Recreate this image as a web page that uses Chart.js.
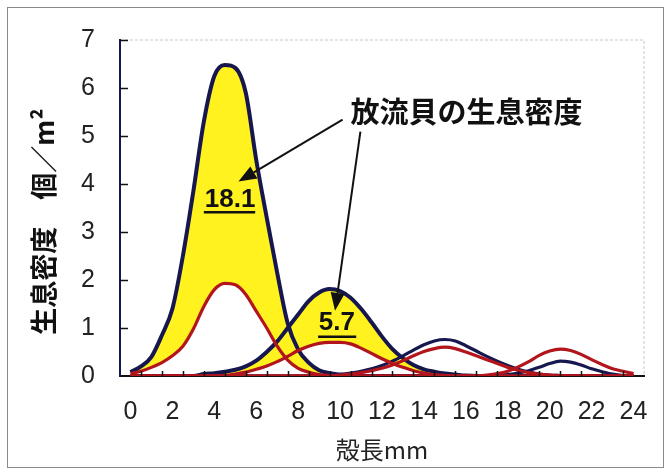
<!DOCTYPE html>
<html>
<head>
<meta charset="utf-8">
<script src="https://cdn.jsdelivr.net/npm/chart.js@4.4.1/dist/chart.umd.min.js"></script>
<style>
html, body { margin: 0; padding: 0; background: #fff; }
#wrap { width: 669px; height: 472px; }
</style>
</head>
<body>
<div id="wrap"><canvas id="chart_shellDensity"></canvas></div>
<script>
// shell length (mm), every 0.5 mm
var shellLength = [0, 0.5, 1, 1.5, 2, 2.5, 3, 3.5, 4, 4.5, 5, 5.5, 6, 6.5, 7, 7.5, 8, 8.5, 9, 9.5,
  10, 10.5, 11, 11.5, 12, 12.5, 13, 13.5, 14, 14.5, 15, 15.5, 16, 16.5, 17, 17.5, 18, 18.5, 19, 19.5,
  20, 20.5, 21, 21.5, 22, 22.5, 23, 23.5, 24];

// density, individuals / m2 (navy = all shellfish, red = wild)
var navy1 = [0.08, 0.2, 0.4, 0.85, 1.4, 2.5, 3.85, 5.3, 6.25, 6.48, 6.42, 5.9, 4.5, 3.3, 2.15, 1.1, 0.55, 0.28, 0.12, 0.06,
  0.03, 0.01, 0, 0, 0, 0, 0, 0, 0, 0, 0, 0, 0, 0, 0, 0, 0, 0, 0, 0, 0, 0, 0, 0, 0, 0, 0, 0, 0];
var red1 = [0.05, 0.1, 0.18, 0.28, 0.42, 0.62, 0.98, 1.45, 1.8, 1.93, 1.9, 1.7, 1.35, 1.0, 0.62, 0.33, 0.16, 0.08, 0.03, 0.01,
  0, 0, 0, 0, 0, 0, 0, 0, 0, 0, 0, 0, 0, 0, 0, 0, 0, 0, 0, 0, 0, 0, 0, 0, 0, 0, 0, 0, 0];
var navy2 = [0, 0, 0, 0, 0, 0, 0, 0.04, 0.06, 0.09, 0.13, 0.2, 0.32, 0.5, 0.72, 1.0, 1.28, 1.56, 1.74, 1.81,
  1.77, 1.63, 1.4, 1.12, 0.82, 0.56, 0.37, 0.23, 0.14, 0.09, 0.05, 0.03, 0.01, 0, 0, 0, 0, 0, 0, 0, 0, 0, 0, 0, 0, 0, 0, 0, 0];
var red2 = [0, 0, 0, 0, 0, 0, 0, 0, 0, 0.01, 0.04, 0.08, 0.14, 0.21, 0.3, 0.41, 0.53, 0.62, 0.68, 0.7,
  0.7, 0.67, 0.58, 0.47, 0.36, 0.26, 0.18, 0.11, 0.06, 0.03, 0.01, 0, 0, 0, 0, 0, 0, 0, 0, 0, 0, 0, 0, 0, 0, 0, 0, 0, 0];
var navy3 = [0, 0, 0, 0, 0, 0, 0, 0, 0, 0, 0, 0, 0, 0, 0, 0, 0, 0, 0, 0.01,
  0.03, 0.06, 0.1, 0.15, 0.22, 0.31, 0.42, 0.54, 0.65, 0.73, 0.76, 0.73, 0.63, 0.52, 0.41, 0.31, 0.22, 0.14, 0.08, 0.04,
  0.02, 0.01, 0, 0, 0, 0, 0, 0, 0];
var red3 = [0, 0, 0, 0, 0, 0, 0, 0, 0, 0, 0, 0, 0, 0, 0, 0, 0, 0, 0, 0,
  0.02, 0.04, 0.07, 0.11, 0.16, 0.23, 0.32, 0.42, 0.51, 0.57, 0.6, 0.57, 0.5, 0.42, 0.34, 0.26, 0.18, 0.12, 0.07, 0.04,
  0.02, 0.01, 0, 0, 0, 0, 0, 0, 0];
var navy4 = [0, 0, 0, 0, 0, 0, 0, 0, 0, 0, 0, 0, 0, 0, 0, 0, 0, 0, 0, 0,
  0, 0, 0, 0, 0, 0, 0, 0, 0, 0, 0, 0, 0, 0, 0, 0.01, 0.03, 0.06, 0.11, 0.18,
  0.26, 0.31, 0.29, 0.23, 0.15, 0.09, 0.04, 0.01, 0];
var red4 = [0, 0, 0, 0, 0, 0, 0, 0, 0, 0, 0, 0, 0, 0, 0, 0, 0, 0, 0, 0,
  0, 0, 0, 0, 0, 0, 0, 0, 0, 0, 0, 0, 0, 0, 0.02, 0.05, 0.1, 0.19, 0.3, 0.43,
  0.52, 0.56, 0.53, 0.45, 0.34, 0.24, 0.15, 0.1, 0.05];

var xTickLabels = [0, 2, 4, 6, 8, 10, 12, 14, 16, 18, 20, 22, 24];
var xTickMarks = [0.5, 1.5, 2.5, 3.5, 4.5, 5.5, 6.5, 7.5, 8.5, 9.5, 10.5, 11.5, 12.5, 13.5, 14.5, 15.5,
  16.5, 17.5, 18.5, 19.5, 20.5, 21.5, 22.5, 23.5];
var yTickLabels = [0, 1, 2, 3, 4, 5, 6, 7];

var NAVY = '#17174f';
var RED = '#b3151c';
var YELLOW = '#fff21e';
var CJK = '"Noto Sans CJK JP", "Noto Sans", sans-serif';
var NUM = '"Liberation Sans Narrow", "Liberation Sans", Arial, sans-serif';

function pts(ys) {
  return shellLength.map(function(x, i) { return {x: x, y: ys[i]}; });
}

function line(label, ys, color, width, fill) {
  return {
    label: label,
    data: pts(ys),
    borderColor: color,
    borderWidth: width,
    backgroundColor: YELLOW,
    fill: fill,
    pointRadius: 0,
    cubicInterpolationMode: 'monotone'
  };
}

var notes = {
  title: {text: '放流貝の生息密度', x: 10.5, y: 5.5},
  arrows: [
    {from: [10.12, 5.34], to: [5.15, 4.05]},
    {from: [10.97, 5.09], to: [9.76, 1.36]}
  ],
  values: [
    {text: '18.1', x: 4.75, y: 3.68, ux: [3.5, 5.95], uy: 3.41},
    {text: '5.7', x: 9.85, y: 1.11, ux: [8.95, 10.77], uy: 0.82}
  ]
};

var chart_shellDensity = new Chart(document.getElementById('chart_shellDensity'), {
    type: 'line',
    data: {
        datasets: [
            line('red1', red1, RED, 3.2, false),
            line('red2', red2, RED, 3.2, false),
            line('red3', red3, RED, 3.2, false),
            line('red4', red4, RED, 3.2, false),
            line('navy1', navy1, NAVY, 4, 0),
            line('navy2', navy2, NAVY, 4, 1),
            line('navy3', navy3, NAVY, 3.2, false),
            line('navy4', navy4, NAVY, 3.2, false)
        ]
    },
    options: {
        animation: false,
        responsive: true,
        maintainAspectRatio: false,
        layout: {
            padding: {left: 25, right: 25, top: 35, bottom: 5}
        },
        plugins: {
            legend: {display: false},
            tooltip: {enabled: false},
            filler: {drawTime: 'beforeDatasetsDraw'}
        },
        scales: {
            x: {
                type: 'linear',
                min: -0.5,
                max: 24.5,
                afterBuildTicks: function(scale) {
                    scale.ticks = xTickLabels.map(function(v) { return {value: v}; });
                },
                afterFit: function(scale) { scale.height = 91; },
                grid: {display: false, drawTicks: false},
                border: {display: true, color: '#111', width: 2},
                ticks: {
                    autoSkip: false,
                    maxRotation: 0,
                    padding: 21,
                    color: '#222',
                    font: {family: NUM, size: 25}
                },
                title: {
                    display: true,
                    text: '殻長mm',
                    color: '#222',
                    font: {family: CJK, size: 24},
                    padding: {top: 12, bottom: 3}
                }
            },
            y: {
                min: 0,
                max: 7,
                afterBuildTicks: function(scale) {
                    scale.ticks = yTickLabels.map(function(v) { return {value: v}; });
                },
                afterFit: function(scale) { scale.width = 95; },
                grid: {display: false, drawTicks: false},
                border: {display: true, color: NAVY, width: 2},
                ticks: {
                    padding: 25,
                    color: '#222',
                    font: {family: NUM, size: 25}
                },
                title: {
                    display: true,
                    text: '生息密度　個／m²　',
                    color: '#111',
                    font: {family: CJK, size: 27, weight: 'bold'},
                    padding: {top: 3, bottom: 10}
                }
            }
        }
    },
    plugins: [{
        id: 'background',
        beforeDraw: function(chart) {
            var ctx = chart.ctx;
            ctx.save();
            ctx.fillStyle = 'white';
            ctx.fillRect(0, 0, chart.width, chart.height);
            ctx.strokeStyle = '#8a8a8a';
            ctx.lineWidth = 1;
            ctx.strokeRect(7.5, 7.5, chart.width - 13, chart.height - 12);
            var a = chart.chartArea;
            ctx.strokeStyle = '#c8c8c8';
            ctx.setLineDash([3, 2]);
            ctx.beginPath();
            ctx.moveTo(a.left, a.top);
            ctx.lineTo(a.right, a.top);
            ctx.lineTo(a.right, a.bottom);
            ctx.stroke();
            ctx.restore();
        }
    }, {
        id: 'innerTicks',
        afterDatasetsDraw: function(chart) {
            var ctx = chart.ctx, xs = chart.scales.x, ys = chart.scales.y;
            ctx.save();
            ctx.strokeStyle = '#111';
            ctx.lineWidth = 1.5;
            ctx.beginPath();
            xTickMarks.forEach(function(v) {
                var px = Math.round(xs.getPixelForValue(v)) + 0.5;
                ctx.moveTo(px, ys.bottom);
                ctx.lineTo(px, ys.bottom - 5);
            });
            yTickLabels.forEach(function(v) {
                if (v === 0) return;
                var py = Math.round(ys.getPixelForValue(v)) + 0.5;
                ctx.moveTo(xs.left, py);
                ctx.lineTo(xs.left + 8, py);
            });
            ctx.stroke();
            ctx.restore();
        }
    }, {
        id: 'notes',
        afterDraw: function(chart) {
            var ctx = chart.ctx, xs = chart.scales.x, ys = chart.scales.y;
            function X(v) { return xs.getPixelForValue(v); }
            function Y(v) { return ys.getPixelForValue(v); }
            ctx.save();
            ctx.fillStyle = '#111';
            ctx.strokeStyle = '#111';
            ctx.font = 'bold 29px ' + CJK;
            ctx.textAlign = 'left';
            ctx.textBaseline = 'middle';
            ctx.fillText(notes.title.text, X(notes.title.x), Y(notes.title.y));

            notes.arrows.forEach(function(a) {
                var x0 = X(a.from[0]), y0 = Y(a.from[1]);
                var x1 = X(a.to[0]), y1 = Y(a.to[1]);
                var ang = Math.atan2(y1 - y0, x1 - x0);
                var len = 18, half = 7;
                var bx = x1 - len * Math.cos(ang), by = y1 - len * Math.sin(ang);
                ctx.lineWidth = 2;
                ctx.beginPath();
                ctx.moveTo(x0, y0);
                ctx.lineTo(bx, by);
                ctx.stroke();
                ctx.beginPath();
                ctx.moveTo(x1, y1);
                ctx.lineTo(bx + half * Math.sin(ang), by - half * Math.cos(ang));
                ctx.lineTo(bx - half * Math.sin(ang), by + half * Math.cos(ang));
                ctx.closePath();
                ctx.fill();
            });

            ctx.font = 'bold 26px ' + NUM;
            ctx.textAlign = 'center';
            notes.values.forEach(function(v) {
                ctx.fillText(v.text, X(v.x), Y(v.y));
                ctx.lineWidth = 2.5;
                ctx.beginPath();
                ctx.moveTo(X(v.ux[0]), Y(v.uy));
                ctx.lineTo(X(v.ux[1]), Y(v.uy));
                ctx.stroke();
            });
            ctx.restore();
        }
    }]
});
</script>
</body>
</html>
